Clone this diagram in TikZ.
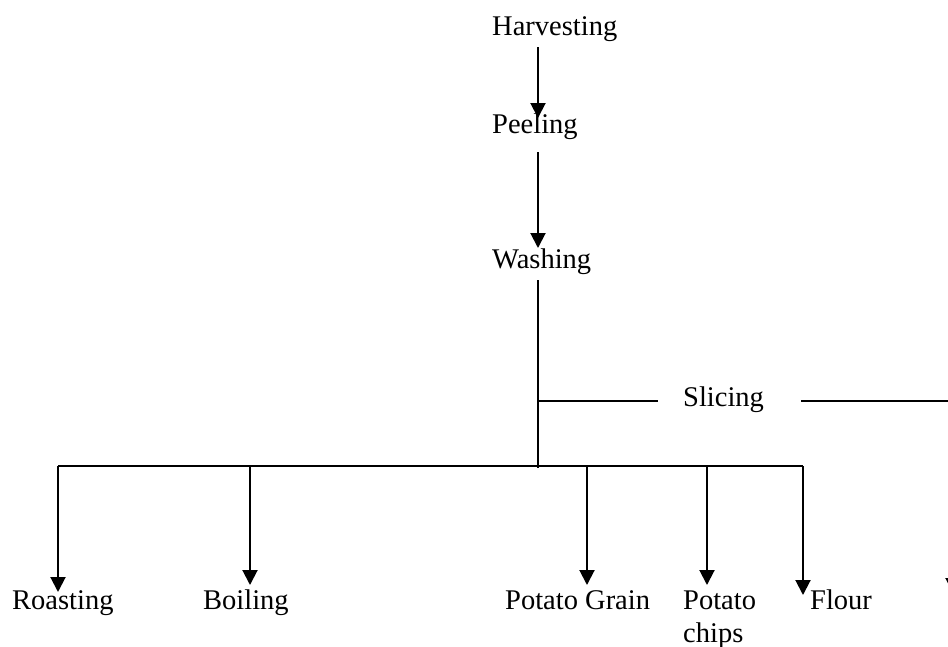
\documentclass[tikz,border=0pt]{standalone}
\usepackage{fontspec}
\setmainfont{Liberation Serif}
\usetikzlibrary{arrows.meta}
\begin{document}
\begin{tikzpicture}[x=1pt,y=-1pt,
  lbl/.style={anchor=base west,inner sep=0pt,font=\fontsize{28.5}{33}\selectfont,align=left},
  ln/.style={line width=2pt,black},
  arr/.style={ln,-{Triangle[width=15pt,length=15pt]}}]
\useasboundingbox (0,0) rectangle (948,646);
\clip (0,0) rectangle (948,646);
% nodes
\node[lbl] (harv) at (492,35) {Harvesting};
\node[lbl] (peel) at (492,133) {Peeling};
\node[lbl] (wash) at (492,268) {Washing};
\node[lbl] (slice) at (683,406) {Slicing};
\node[lbl] (roast) at (12,609) {Roasting};
\node[lbl] (boil) at (203,609) {Boiling};
\node[lbl] (grain) at (505,609) {Potato Grain};
\node[lbl] (chips) at (683,642) {Potato\\chips};
\node[lbl] (flour) at (810,609) {Flour};
% coordinates
\coordinate (trunkTop) at ([shift={(46,12)}]wash.base west);
\coordinate (trunkBot) at (538,468);
\coordinate (sliceJ) at (538,401);
\coordinate (busL) at (58,466);
\coordinate (busR) at (803,466);
\coordinate (offR) at (953,401);
% arrows
\draw[arr] ([shift={(46,12)}]harv.base west) -- ([shift={(46,-15)}]peel.base west);
\draw[arr] ([shift={(46,19)}]peel.base west) -- ([shift={(46,-20)}]wash.base west);
\draw[ln] (trunkTop) -- (trunkBot);
\draw[ln] (sliceJ) -- ([shift={(-25,-5)}]slice.base west);
\draw[ln] ([shift={(37,-5)}]slice.base east) -- (offR);
\draw[arr] (offR) -- (953,593);
\draw[ln] (busL) -- (busR);
\draw[arr] (busL) -- (58,592);
\draw[arr] (busL -| 250,0) -- (250,585);
\draw[arr] (busL -| 587,0) -- (587,585);
\draw[arr] (busL -| 707,0) -- (707,585);
\draw[arr] (busR) -- (803,595);
\end{tikzpicture}
\end{document}
